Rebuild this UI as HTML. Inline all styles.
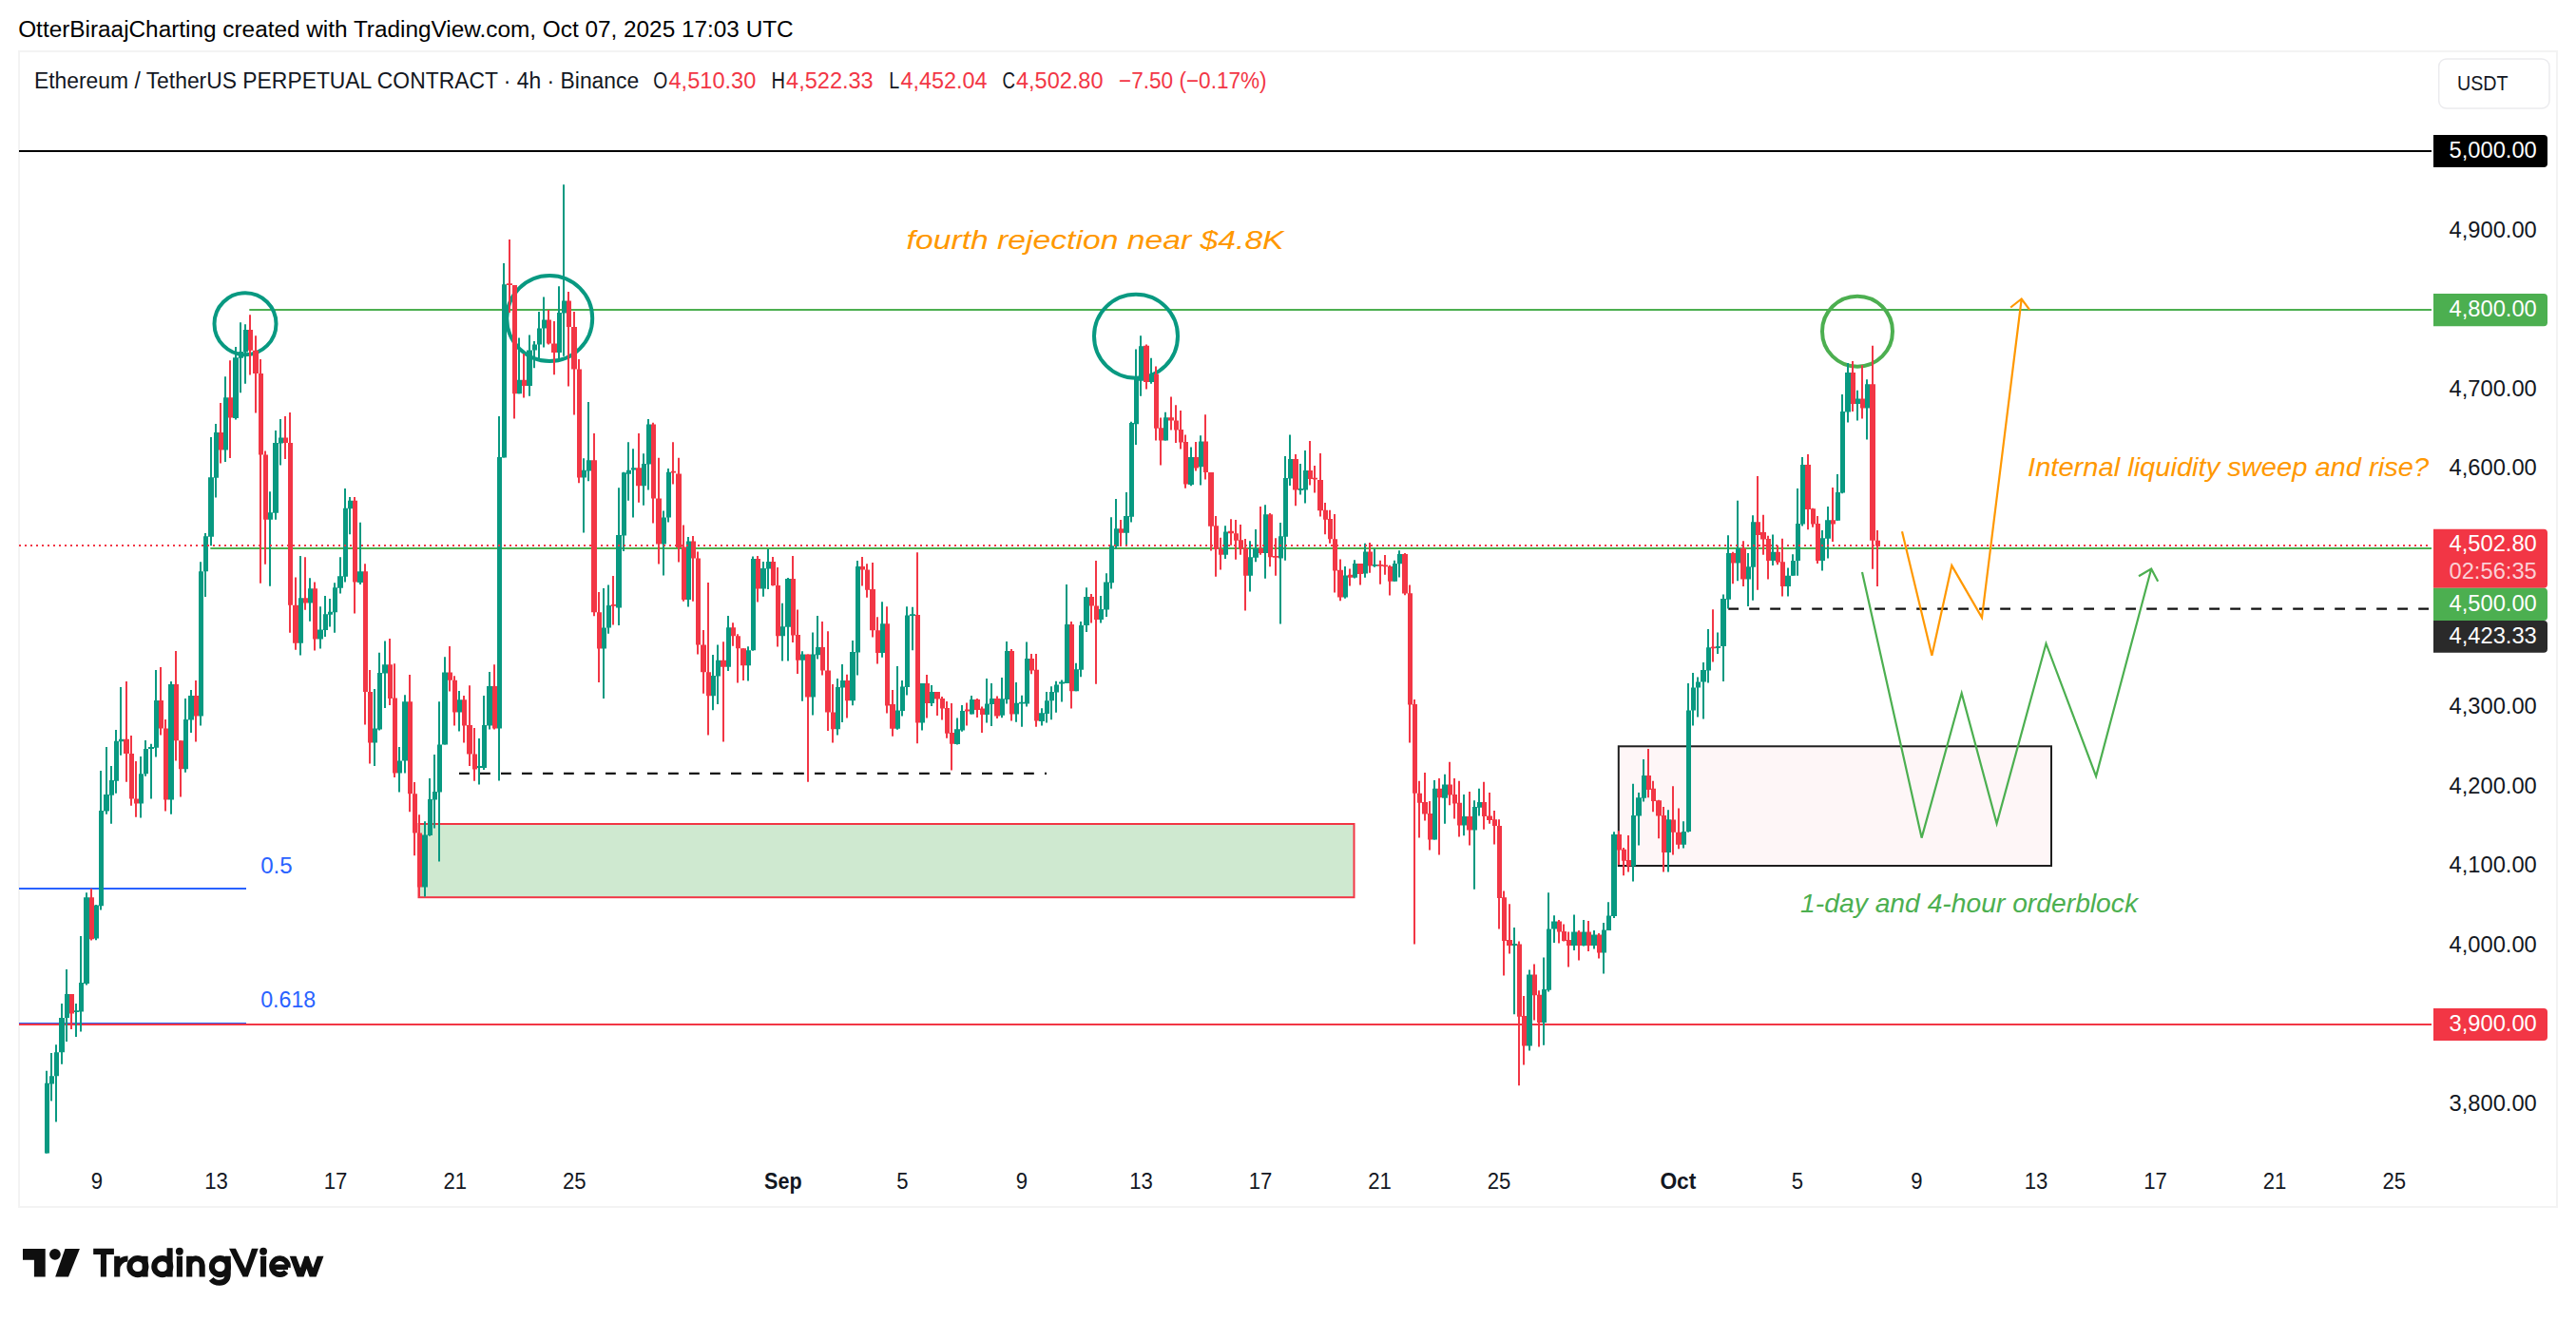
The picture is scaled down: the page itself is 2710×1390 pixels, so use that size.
<!DOCTYPE html>
<html><head><meta charset="utf-8"><title>ETHUSDT chart</title>
<style>html,body{margin:0;padding:0;background:#fff}body{width:2710px;height:1390px;overflow:hidden;font-family:"Liberation Sans",sans-serif}</style>
</head><body>
<svg width="2710" height="1390" viewBox="0 0 2710 1390" style="display:block">
<rect x="0" y="0" width="2710" height="1390" fill="#ffffff"/>
<text x="19.2" y="39.4" font-size="23.5" fill="#000000" textLength="815.5" lengthAdjust="spacingAndGlyphs">OtterBiraajCharting created with TradingView.com, Oct 07, 2025 17:03 UTC</text>
<rect x="20" y="54" width="2670" height="1216" fill="#ffffff" stroke="#f3f3f3" stroke-width="2"/>
<text x="35.9" y="93.1" font-size="23.5" fill="#131722" textLength="636.3" lengthAdjust="spacingAndGlyphs">Ethereum / TetherUS PERPETUAL CONTRACT · 4h · Binance</text>
<text x="687.2" y="93.1" font-size="23.5" fill="#131722" textLength="15" lengthAdjust="spacingAndGlyphs">O</text>
<text x="703.5" y="93.1" font-size="23.5" fill="#F23645" textLength="91.8" lengthAdjust="spacingAndGlyphs">4,510.30</text>
<text x="811.6" y="93.1" font-size="23.5" fill="#131722" textLength="14.5" lengthAdjust="spacingAndGlyphs">H</text>
<text x="827.1" y="93.1" font-size="23.5" fill="#F23645" textLength="91.6" lengthAdjust="spacingAndGlyphs">4,522.33</text>
<text x="935.3" y="93.1" font-size="23.5" fill="#131722" textLength="11" lengthAdjust="spacingAndGlyphs">L</text>
<text x="947.5" y="93.1" font-size="23.5" fill="#F23645" textLength="91" lengthAdjust="spacingAndGlyphs">4,452.04</text>
<text x="1054.6" y="93.1" font-size="23.5" fill="#131722" textLength="13.5" lengthAdjust="spacingAndGlyphs">C</text>
<text x="1069.0" y="93.1" font-size="23.5" fill="#F23645" textLength="91.5" lengthAdjust="spacingAndGlyphs">4,502.80</text>
<text x="1177.1" y="93.1" font-size="23.5" fill="#F23645" textLength="155.5" lengthAdjust="spacingAndGlyphs">−7.50 (−0.17%)</text>
<rect x="2565.7" y="61.9" width="116.3" height="52.2" rx="8" ry="8" fill="#ffffff" stroke="#ebebee" stroke-width="1.5"/>
<text x="2585" y="95.3" font-size="21.5" fill="#131722" textLength="53.6" lengthAdjust="spacingAndGlyphs">USDT</text>
<line x1="20" y1="159" x2="2558" y2="159" stroke="#000000" stroke-width="2"/>
<line x1="262.3" y1="326" x2="2558" y2="326" stroke="#4CAF50" stroke-width="2"/>
<line x1="221.3" y1="577" x2="2558" y2="577" stroke="#4CAF50" stroke-width="2"/>
<line x1="20" y1="935" x2="259" y2="935" stroke="#2962FF" stroke-width="2"/>
<line x1="20" y1="1077" x2="259" y2="1077" stroke="#2962FF" stroke-width="2"/>
<line x1="20" y1="1078" x2="2558" y2="1078" stroke="#F23645" stroke-width="2"/>
<rect x="440.5" y="867" width="984" height="77.2" fill="rgba(76,175,80,0.27)" stroke="#F23645" stroke-width="2"/>
<rect x="1702.8" y="785.3" width="455.2" height="125.7" fill="rgba(242,54,69,0.045)" stroke="#1e1e1e" stroke-width="2"/>
<line x1="483" y1="813.9" x2="1101" y2="813.9" stroke="#111111" stroke-width="2.2" stroke-dasharray="10.8 11.2"/>
<line x1="1818.2" y1="640.7" x2="2556" y2="640.7" stroke="#111111" stroke-width="2.2" stroke-dasharray="10.8 11.2"/>
<circle cx="258" cy="340.7" r="32.5" fill="none" stroke="#089981" stroke-width="4"/>
<circle cx="578.2" cy="335" r="45" fill="none" stroke="#089981" stroke-width="4"/>
<circle cx="1195" cy="353.7" r="44" fill="none" stroke="#089981" stroke-width="4"/>
<circle cx="1954" cy="348.7" r="37" fill="none" stroke="#4CAF50" stroke-width="4"/>
<path d="M2001 559.3 L2032.4 689.8 L2053.3 595.1 L2085 649.8 L2126.7 314.5 M2115.2 323.5 L2126.7 314.5 L2135.1 325.8" fill="none" stroke="#FF9800" stroke-width="2.2" stroke-linejoin="miter" stroke-linecap="butt"/>
<path d="M1959 602 L2021.6 881.6 L2063.7 729.4 L2100.6 866.6 L2152.5 677.2 L2205.1 816.8 L2263.2 598.5 M2250 606.2 L2263.2 598.5 L2270.2 611.7" fill="none" stroke="#4CAF50" stroke-width="2.2" stroke-linejoin="miter" stroke-linecap="butt"/>
<path d="M48 1126.8h2V1213.5h-2zM53 1108.1h2V1158.5h-2zM58 1099.3h2V1180.5h-2zM64 1056.1h2V1119.8h-2zM69 1019.9h2V1096.1h-2zM79 1056.1h2V1091.1h-2zM84 984.9h2V1085.6h-2zM90 939.2h2V1036.6h-2zM100 952.0h2V989.2h-2zM105 811.1h2V957.4h-2zM111 786.1h2V856.8h-2zM116 806.1h2V866.8h-2zM121 768.1h2V834.8h-2zM126 722.9h2V794.8h-2zM147 796.1h2V860.5h-2zM152 779.1h2V816.8h-2zM158 782.8h2V840.5h-2zM163 705.1h2V796.6h-2zM179 716.9h2V856.8h-2zM194 734.9h2V812.8h-2zM200 726.1h2V771.1h-2zM210 591.2h2V763.6h-2zM215 561.0h2V628.0h-2zM221 459.9h2V574.3h-2zM226 446.1h2V523.6h-2zM236 396.2h2V486.1h-2zM247 364.9h2V441.6h-2zM252 339.2h2V413.2h-2zM257 341.2h2V403.7h-2zM283 517.3h2V616.7h-2zM289 453.1h2V546.8h-2zM294 441.1h2V489.4h-2zM315 585.0h2V689.4h-2zM325 608.2h2V653.7h-2zM336 638.2h2V682.4h-2zM341 627.0h2V669.9h-2zM346 630.0h2V659.4h-2zM351 613.2h2V665.7h-2zM357 586.2h2V624.5h-2zM362 514.1h2V612.5h-2zM367 523.1h2V562.3h-2zM378 549.8h2V615.0h-2zM393 724.9h2V806.1h-2zM398 686.7h2V768.6h-2zM404 674.4h2V744.9h-2zM419 786.1h2V833.6h-2zM425 731.2h2V813.6h-2zM446 864.3h2V943.5h-2zM451 819.1h2V879.8h-2zM456 794.1h2V871.6h-2zM461 738.2h2V906.5h-2zM467 691.2h2V783.6h-2zM482 726.9h2V769.4h-2zM503 776.9h2V825.6h-2zM508 731.9h2V809.9h-2zM514 706.9h2V767.4h-2zM524 438.0h2V821.6h-2zM529 276.9h2V481.5h-2zM545 355.4h2V414.3h-2zM556 352.4h2V416.8h-2zM561 359.1h2V387.3h-2zM566 328.1h2V377.3h-2zM571 312.4h2V365.6h-2zM587 301.2h2V377.3h-2zM592 194.2h2V374.8h-2zM613 482.3h2V560.6h-2zM618 423.1h2V506.2h-2zM634 619.1h2V734.9h-2zM639 615.4h2V666.7h-2zM650 513.2h2V658.0h-2zM655 496.8h2V579.9h-2zM660 465.3h2V526.7h-2zM665 472.3h2V544.4h-2zM676 477.3h2V531.7h-2zM681 441.0h2V515.4h-2zM697 537.4h2V605.6h-2zM702 493.0h2V549.4h-2zM723 564.9h2V638.6h-2zM749 689.0h2V747.3h-2zM754 678.6h2V741.0h-2zM765 648.1h2V706.0h-2zM786 680.3h2V716.5h-2zM791 585.6h2V684.8h-2zM802 591.1h2V627.8h-2zM807 577.4h2V619.9h-2zM822 634.8h2V695.5h-2zM828 608.1h2V695.5h-2zM843 685.3h2V737.8h-2zM854 665.6h2V752.4h-2zM859 648.1h2V693.5h-2zM880 714.0h2V773.6h-2zM885 699.0h2V759.9h-2zM896 674.1h2V742.3h-2zM901 589.9h2V710.5h-2zM927 633.2h2V691.7h-2zM943 701.1h2V767.8h-2zM948 716.1h2V753.6h-2zM953 638.2h2V731.6h-2zM959 638.7h2V684.2h-2zM969 719.1h2V768.6h-2zM979 721.1h2V743.1h-2zM1006 755.4h2V783.6h-2zM1011 741.9h2V769.8h-2zM1021 731.9h2V751.6h-2zM1037 714.1h2V760.6h-2zM1042 719.1h2V764.1h-2zM1053 713.1h2V755.3h-2zM1058 674.9h2V740.6h-2zM1068 718.1h2V759.8h-2zM1074 731.8h2V764.8h-2zM1079 675.6h2V743.6h-2zM1095 745.3h2V763.5h-2zM1100 728.1h2V760.5h-2zM1105 722.3h2V757.3h-2zM1110 716.8h2V749.8h-2zM1116 715.6h2V738.6h-2zM1121 614.9h2V719.1h-2zM1131 697.8h2V727.3h-2zM1136 654.1h2V712.3h-2zM1142 618.2h2V664.9h-2zM1157 626.9h2V655.6h-2zM1163 603.2h2V649.1h-2zM1168 544.2h2V619.4h-2zM1173 525.0h2V577.4h-2zM1184 518.0h2V574.2h-2zM1189 443.7h2V549.5h-2zM1194 367.5h2V468.1h-2zM1199 353.2h2V416.7h-2zM1210 376.7h2V403.7h-2zM1225 433.7h2V463.6h-2zM1252 470.6h2V511.2h-2zM1262 458.2h2V510.5h-2zM1288 553.2h2V587.9h-2zM1314 569.2h2V622.4h-2zM1320 556.9h2V591.2h-2zM1330 531.2h2V608.7h-2zM1346 550.0h2V656.6h-2zM1351 479.9h2V589.8h-2zM1356 457.4h2V511.1h-2zM1367 487.9h2V520.4h-2zM1372 474.1h2V529.4h-2zM1414 596.1h2V629.8h-2zM1424 589.3h2V608.5h-2zM1435 571.8h2V607.8h-2zM1445 577.3h2V596.8h-2zM1466 589.8h2V611.8h-2zM1471 579.2h2V607.5h-2zM1508 821.1h2V883.5h-2zM1519 814.8h2V866.8h-2zM1539 836.0h2V879.3h-2zM1550 842.3h2V935.7h-2zM1555 829.8h2V858.5h-2zM1592 976.1h2V1067.3h-2zM1608 1020.4h2V1105.5h-2zM1623 1007.4h2V1099.8h-2zM1628 939.2h2V1043.6h-2zM1634 963.2h2V991.9h-2zM1655 962.4h2V999.9h-2zM1665 968.1h2V995.6h-2zM1676 979.1h2V998.6h-2zM1686 971.1h2V1024.4h-2zM1691 949.2h2V979.1h-2zM1697 875.3h2V966.1h-2zM1717 824.8h2V927.4h-2zM1723 834.0h2V889.5h-2zM1728 799.1h2V843.5h-2zM1754 852.3h2V917.4h-2zM1770 864.2h2V892.5h-2zM1775 719.1h2V875.7h-2zM1780 708.1h2V763.6h-2zM1785 712.4h2V754.4h-2zM1791 696.9h2V756.6h-2zM1796 661.9h2V718.6h-2zM1806 665.4h2V687.9h-2zM1812 625.5h2V716.9h-2zM1817 563.2h2V640.4h-2zM1827 526.8h2V611.2h-2zM1838 582.0h2V637.9h-2zM1843 542.3h2V631.7h-2zM1864 562.5h2V595.0h-2zM1880 597.5h2V627.4h-2zM1885 583.2h2V605.7h-2zM1890 514.1h2V605.7h-2zM1895 481.1h2V553.6h-2zM1916 558.0h2V600.5h-2zM1922 533.1h2V587.5h-2zM1932 499.1h2V547.8h-2zM1937 414.9h2V519.3h-2zM1943 381.9h2V444.4h-2zM1953 410.7h2V442.4h-2zM1963 399.2h2V462.4h-2z" fill="#089981"/>
<path d="M74 1046.1h2V1083.1h-2zM95 935.0h2V989.4h-2zM132 716.9h2V822.8h-2zM137 774.1h2V847.8h-2zM142 801.1h2V859.8h-2zM168 701.9h2V773.6h-2zM173 756.9h2V853.5h-2zM184 684.9h2V800.6h-2zM189 779.3h2V838.5h-2zM205 716.1h2V780.6h-2zM231 424.1h2V487.4h-2zM241 379.2h2V481.9h-2zM262 331.2h2V394.4h-2zM268 353.2h2V434.4h-2zM273 377.9h2V613.7h-2zM278 474.4h2V593.7h-2zM299 438.1h2V483.1h-2zM304 434.1h2V665.7h-2zM310 607.5h2V683.7h-2zM320 586.2h2V641.7h-2zM330 612.5h2V684.4h-2zM372 523.1h2V645.4h-2zM383 593.2h2V762.4h-2zM388 705.1h2V803.6h-2zM409 671.9h2V741.9h-2zM414 698.2h2V817.9h-2zM430 709.9h2V854.3h-2zM435 823.1h2V900.3h-2zM440 857.3h2V943.5h-2zM472 680.0h2V727.4h-2zM477 711.2h2V763.6h-2zM487 731.9h2V781.6h-2zM493 721.2h2V806.1h-2zM498 766.1h2V821.8h-2zM519 699.2h2V767.4h-2zM535 251.9h2V329.1h-2zM540 299.9h2V440.5h-2zM550 372.3h2V418.6h-2zM576 326.1h2V362.4h-2zM582 338.1h2V394.3h-2zM597 306.9h2V406.6h-2zM603 327.9h2V436.6h-2zM608 378.1h2V508.2h-2zM624 456.0h2V648.2h-2zM629 623.1h2V717.9h-2zM644 606.1h2V657.5h-2zM671 456.0h2V528.7h-2zM686 444.8h2V550.4h-2zM692 481.8h2V593.6h-2zM707 465.3h2V509.4h-2zM713 481.8h2V591.6h-2zM718 552.4h2V632.8h-2zM728 564.1h2V632.8h-2zM733 580.6h2V688.5h-2zM739 663.1h2V729.8h-2zM744 613.1h2V773.6h-2zM760 675.3h2V780.6h-2zM770 655.3h2V679.8h-2zM775 667.3h2V718.5h-2zM781 682.3h2V716.0h-2zM796 584.9h2V633.6h-2zM812 586.1h2V616.6h-2zM817 596.9h2V680.6h-2zM833 584.9h2V676.1h-2zM838 641.6h2V709.0h-2zM849 688.5h2V822.8h-2zM864 654.1h2V710.5h-2zM870 664.3h2V769.1h-2zM875 719.9h2V781.6h-2zM890 709.8h2V755.4h-2zM906 586.1h2V616.6h-2zM911 593.2h2V628.7h-2zM917 592.0h2V670.4h-2zM922 649.2h2V698.6h-2zM932 638.2h2V750.6h-2zM938 726.1h2V774.8h-2zM964 581.2h2V782.3h-2zM974 709.9h2V755.6h-2zM985 728.1h2V752.9h-2zM990 733.1h2V757.4h-2zM995 738.1h2V776.8h-2zM1000 739.9h2V810.6h-2zM1016 739.4h2V763.6h-2zM1027 734.9h2V754.9h-2zM1032 743.6h2V771.1h-2zM1048 732.4h2V756.1h-2zM1063 683.1h2V758.5h-2zM1084 688.1h2V709.3h-2zM1089 688.1h2V764.8h-2zM1126 654.1h2V745.6h-2zM1147 624.9h2V655.6h-2zM1152 589.9h2V719.8h-2zM1178 547.0h2V574.9h-2zM1205 362.5h2V409.4h-2zM1215 385.5h2V463.6h-2zM1220 439.4h2V489.4h-2zM1231 417.4h2V452.4h-2zM1236 426.2h2V466.1h-2zM1241 431.9h2V472.4h-2zM1246 457.4h2V513.7h-2zM1257 464.9h2V495.5h-2zM1267 436.2h2V504.5h-2zM1273 497.0h2V579.4h-2zM1278 543.0h2V606.7h-2zM1283 565.7h2V599.4h-2zM1294 546.2h2V573.7h-2zM1299 547.0h2V588.7h-2zM1304 552.0h2V583.7h-2zM1309 566.9h2V642.4h-2zM1325 533.0h2V583.7h-2zM1335 540.0h2V596.2h-2zM1341 566.2h2V605.7h-2zM1362 478.1h2V532.3h-2zM1377 464.1h2V510.6h-2zM1382 489.9h2V518.6h-2zM1388 476.9h2V543.6h-2zM1393 529.1h2V562.3h-2zM1398 536.8h2V571.8h-2zM1403 541.1h2V623.5h-2zM1409 588.6h2V632.3h-2zM1419 598.5h2V616.5h-2zM1430 593.1h2V615.5h-2zM1440 571.1h2V602.8h-2zM1451 589.8h2V614.8h-2zM1456 584.1h2V604.8h-2zM1461 594.8h2V626.5h-2zM1477 582.0h2V626.2h-2zM1482 615.5h2V781.6h-2zM1487 736.1h2V993.6h-2zM1492 821.8h2V881.5h-2zM1498 813.1h2V863.5h-2zM1503 843.0h2V894.5h-2zM1513 819.1h2V899.4h-2zM1524 801.8h2V847.3h-2zM1529 819.1h2V861.5h-2zM1534 821.8h2V880.5h-2zM1545 833.0h2V889.5h-2zM1560 822.8h2V872.8h-2zM1566 834.0h2V866.8h-2zM1571 853.0h2V888.5h-2zM1576 862.3h2V977.4h-2zM1581 937.4h2V1026.6h-2zM1587 951.2h2V1003.6h-2zM1597 990.6h2V1142.3h-2zM1602 1048.1h2V1120.5h-2zM1613 1014.4h2V1073.6h-2zM1618 1042.3h2V1101.5h-2zM1639 967.9h2V992.4h-2zM1644 972.4h2V990.6h-2zM1649 980.6h2V1017.4h-2zM1660 979.1h2V1010.6h-2zM1670 969.1h2V1001.1h-2zM1681 981.9h2V1008.6h-2zM1702 874.3h2V909.9h-2zM1707 892.0h2V921.2h-2zM1712 879.0h2V917.4h-2zM1733 788.1h2V839.3h-2zM1738 821.8h2V854.3h-2zM1744 841.8h2V882.3h-2zM1749 849.0h2V917.4h-2zM1759 827.3h2V899.4h-2zM1765 850.5h2V893.2h-2zM1801 641.2h2V696.6h-2zM1822 580.7h2V614.2h-2zM1833 569.2h2V617.0h-2zM1848 501.1h2V620.7h-2zM1854 541.8h2V583.7h-2zM1859 563.7h2V609.5h-2zM1869 573.7h2V594.2h-2zM1874 566.7h2V627.4h-2zM1901 478.1h2V557.3h-2zM1906 534.8h2V554.8h-2zM1911 543.1h2V593.0h-2zM1927 513.1h2V570.0h-2zM1948 379.9h2V433.1h-2zM1958 384.2h2V440.6h-2zM1969 363.7h2V598.7h-2zM1974 558.0h2V617.0h-2z" fill="#F23645"/>
<path d="M47 1139.8h5V1213.5h-5zM52 1132.3h5V1140.6h-5zM57 1107.3h5V1132.3h-5zM62 1071.1h6V1107.3h-6zM68 1046.1h5V1071.1h-5zM78 1063.3h5V1065.1h-5zM83 1034.1h5V1064.4h-5zM88 944.2h6V1034.9h-6zM99 952.5h5V987.4h-5zM104 853.0h5V953.2h-5zM109 836.1h6V853.5h-6zM115 821.1h5V836.8h-5zM120 779.8h5V821.8h-5zM125 777.8h5V780.3h-5zM146 814.3h5V845.5h-5zM151 788.1h5V814.3h-5zM156 786.1h6V788.1h-6zM162 736.9h5V786.8h-5zM177 719.9h6V841.5h-6zM193 756.9h5V809.3h-5zM198 731.9h6V757.4h-6zM209 601.2h5V753.6h-5zM214 564.3h5V601.2h-5zM219 502.3h6V564.8h-6zM225 454.9h5V502.8h-5zM235 418.2h5V473.6h-5zM245 376.2h6V439.9h-6zM251 369.9h5V376.7h-5zM256 347.0h5V370.4h-5zM282 539.3h5V546.8h-5zM287 466.1h6V539.8h-6zM293 460.6h5V466.6h-5zM314 629.2h5V676.7h-5zM324 619.2h5V634.5h-5zM334 662.4h6V672.4h-6zM340 646.2h5V662.9h-5zM345 643.7h5V646.7h-5zM350 618.2h5V644.2h-5zM355 606.2h6V618.7h-6zM361 534.8h5V606.7h-5zM366 526.8h5V535.3h-5zM376 601.2h6V613.0h-6zM392 766.6h5V781.6h-5zM397 708.1h5V767.4h-5zM402 699.2h6V708.6h-6zM418 800.6h5V813.6h-5zM423 738.2h6V800.6h-6zM444 878.6h6V933.5h-6zM450 841.1h5V879.1h-5zM455 833.1h5V841.6h-5zM460 783.6h5V833.6h-5zM465 707.4h6V783.6h-6zM481 736.2h5V749.4h-5zM502 806.1h5V807.9h-5zM507 763.1h5V807.9h-5zM512 721.9h6V763.6h-6zM523 481.0h5V766.6h-5zM528 299.2h5V481.5h-5zM544 399.8h5V414.3h-5zM554 368.6h6V406.1h-6zM560 362.4h5V368.6h-5zM565 345.4h5V362.4h-5zM570 336.6h5V345.6h-5zM586 329.1h5V371.1h-5zM591 316.6h5V329.4h-5zM612 494.8h5V502.4h-5zM617 484.3h5V495.4h-5zM633 660.5h5V682.5h-5zM638 637.0h5V660.5h-5zM648 563.1h6V639.5h-6zM654 497.3h5V563.6h-5zM659 494.8h5V498.7h-5zM664 492.3h5V494.4h-5zM675 488.0h5V511.2h-5zM680 446.5h5V488.5h-5zM696 544.4h5V572.4h-5zM701 496.8h5V544.4h-5zM722 569.4h5V631.1h-5zM748 711.0h5V732.3h-5zM753 694.8h5V711.5h-5zM764 660.3h5V701.8h-5zM785 684.3h5V700.3h-5zM790 587.9h5V684.3h-5zM800 598.1h6V619.4h-6zM806 591.1h5V598.6h-5zM821 659.3h5V669.3h-5zM826 609.1h6V659.8h-6zM842 688.5h5V694.8h-5zM853 688.5h5V733.5h-5zM858 681.1h5V689.3h-5zM879 723.0h5V767.3h-5zM884 716.0h5V723.5h-5zM894 686.1h6V737.3h-6zM900 596.1h5V686.6h-5zM926 656.2h5V686.9h-5zM942 747.4h5V766.8h-5zM947 722.4h5V747.9h-5zM952 647.4h5V722.9h-5zM957 646.2h6V647.9h-6zM968 719.1h5V760.6h-5zM978 728.1h5V739.9h-5zM1004 767.3h6V783.1h-6zM1010 748.1h5V768.6h-5zM1020 736.1h5V751.6h-5zM1036 740.4h5V751.9h-5zM1041 734.9h5V741.1h-5zM1052 735.3h5V752.8h-5zM1057 684.9h5V736.1h-5zM1067 739.8h5V751.6h-5zM1072 738.8h6V740.6h-6zM1078 693.1h5V740.6h-5zM1093 750.3h6V759.0h-6zM1099 737.3h5V751.1h-5zM1104 728.1h5V737.3h-5zM1109 720.6h5V728.6h-5zM1114 717.6h6V719.4h-6zM1120 656.9h5V719.1h-5zM1130 704.3h5V727.3h-5zM1135 657.9h5V704.8h-5zM1140 628.1h6V658.1h-6zM1156 641.1h5V651.9h-5zM1161 612.4h6V641.6h-6zM1167 574.2h5V613.2h-5zM1172 556.2h5V574.9h-5zM1182 543.0h6V560.7h-6zM1188 444.9h5V543.7h-5zM1193 397.4h5V446.2h-5zM1198 364.2h5V400.7h-5zM1209 393.7h5V401.9h-5zM1224 439.2h5V463.6h-5zM1250 481.1h6V510.0h-6zM1261 464.4h5V491.2h-5zM1287 559.4h5V583.7h-5zM1313 586.2h5V605.7h-5zM1318 576.9h6V586.7h-6zM1329 541.2h5V581.9h-5zM1345 564.2h5V587.4h-5zM1350 503.1h5V564.8h-5zM1355 483.1h5V503.6h-5zM1366 514.1h5V515.9h-5zM1371 494.9h5V515.4h-5zM1413 605.5h5V628.5h-5zM1423 593.1h5V607.8h-5zM1434 580.6h5V603.5h-5zM1444 594.0h5V595.8h-5zM1465 593.1h5V611.8h-5zM1470 583.0h5V593.2h-5zM1507 829.8h5V883.5h-5zM1517 825.6h6V839.8h-6zM1538 859.0h5V868.5h-5zM1549 849.0h5V873.5h-5zM1554 844.0h5V849.8h-5zM1591 993.1h5V994.9h-5zM1606 1025.4h6V1100.5h-6zM1622 1041.1h5V1076.1h-5zM1627 977.4h5V1041.8h-5zM1632 969.4h6V977.4h-6zM1653 980.4h6V994.9h-6zM1664 980.4h5V994.9h-5zM1674 983.6h6V994.9h-6zM1685 978.6h5V1002.4h-5zM1690 963.6h5V979.1h-5zM1695 878.0h6V964.1h-6zM1716 858.0h5V911.2h-5zM1721 839.3h6V858.5h-6zM1727 816.1h5V839.8h-5zM1753 862.3h5V896.9h-5zM1769 875.0h5V888.7h-5zM1774 747.4h5V875.0h-5zM1779 723.6h5V747.4h-5zM1784 717.4h5V723.6h-5zM1789 704.9h6V717.4h-6zM1795 681.2h5V705.4h-5zM1805 679.9h5V681.9h-5zM1810 629.9h6V679.9h-6zM1816 582.0h5V630.7h-5zM1826 577.0h5V592.5h-5zM1837 596.2h5V609.5h-5zM1842 549.3h5V596.7h-5zM1863 580.7h5V590.0h-5zM1878 605.7h6V617.0h-6zM1884 590.0h5V605.7h-5zM1889 551.1h5V590.0h-5zM1894 489.1h5V551.6h-5zM1915 566.2h5V590.0h-5zM1920 547.3h6V566.7h-6zM1931 518.1h5V547.8h-5zM1936 433.1h5V518.6h-5zM1941 391.9h6V433.6h-6zM1952 419.4h5V424.9h-5zM1962 404.2h5V429.4h-5z" fill="#089981"/>
<path d="M73 1046.1h5V1066.6h-5zM94 944.2h5V988.2h-5zM130 777.8h6V793.1h-6zM136 793.1h5V840.5h-5zM141 840.5h5V845.5h-5zM167 736.9h5V766.6h-5zM172 766.6h5V841.5h-5zM183 719.9h5V779.3h-5zM188 779.3h5V809.3h-5zM204 731.9h5V753.6h-5zM230 454.9h5V473.6h-5zM240 418.2h5V439.4h-5zM261 347.0h5V368.7h-5zM266 368.7h6V392.9h-6zM272 392.9h5V478.6h-5zM277 478.6h5V546.8h-5zM298 460.6h5V466.1h-5zM303 466.1h5V636.7h-5zM308 636.7h6V676.7h-6zM319 629.2h5V634.5h-5zM329 619.2h5V672.4h-5zM371 526.8h5V612.5h-5zM382 601.2h5V728.1h-5zM387 728.1h5V781.6h-5zM408 699.2h5V734.9h-5zM413 734.4h5V813.6h-5zM429 738.2h5V835.3h-5zM434 835.3h5V876.6h-5zM439 876.6h5V933.5h-5zM471 707.4h5V715.7h-5zM476 715.7h5V749.4h-5zM486 736.2h5V763.6h-5zM491 763.1h6V793.6h-6zM497 793.6h5V809.4h-5zM518 721.9h5V766.6h-5zM533 298.2h6V299.9h-6zM539 299.9h5V414.3h-5zM549 399.8h5V406.1h-5zM575 336.6h5V361.6h-5zM580 361.6h6V371.1h-6zM596 316.6h5V344.1h-5zM601 344.1h6V388.6h-6zM607 388.6h5V502.4h-5zM622 484.3h6V644.2h-6zM628 644.2h5V682.5h-5zM643 636.0h5V637.8h-5zM669 492.3h6V511.2h-6zM685 446.5h5V524.4h-5zM690 524.4h6V572.4h-6zM706 495.8h5V497.6h-5zM711 498.5h6V576.1h-6zM717 575.4h5V631.1h-5zM727 569.4h5V587.4h-5zM732 587.4h5V678.6h-5zM737 678.6h6V707.3h-6zM743 707.3h5V732.3h-5zM758 694.8h6V701.8h-6zM769 660.3h5V669.3h-5zM774 669.3h5V682.3h-5zM779 682.3h6V700.3h-6zM795 587.9h5V619.4h-5zM811 591.1h5V616.1h-5zM816 616.1h5V669.3h-5zM832 609.1h5V668.6h-5zM837 668.1h5V694.8h-5zM847 688.5h6V733.5h-6zM863 681.1h5V705.5h-5zM868 705.5h6V749.4h-6zM874 749.4h5V767.3h-5zM889 716.0h5V737.3h-5zM905 596.1h5V599.4h-5zM910 599.5h5V620.7h-5zM915 620.0h6V663.2h-6zM921 663.2h5V686.9h-5zM931 656.2h5V742.4h-5zM936 741.1h6V766.8h-6zM963 646.9h5V760.6h-5zM973 719.1h5V739.9h-5zM983 728.1h6V735.6h-6zM989 734.9h5V745.6h-5zM994 744.9h5V771.8h-5zM999 771.1h5V782.8h-5zM1015 746.6h5V748.4h-5zM1025 736.1h6V746.9h-6zM1031 745.4h5V751.9h-5zM1046 734.9h6V753.6h-6zM1062 684.9h5V751.6h-5zM1083 693.1h5V705.6h-5zM1088 704.8h5V758.5h-5zM1125 656.9h5V727.3h-5zM1146 628.1h5V637.4h-5zM1151 637.4h5V651.9h-5zM1177 556.2h5V560.7h-5zM1203 363.7h6V401.9h-6zM1214 393.7h5V450.7h-5zM1219 450.2h5V463.6h-5zM1229 439.2h6V442.4h-6zM1235 442.4h5V452.4h-5zM1240 451.9h5V465.6h-5zM1245 464.9h5V509.5h-5zM1256 481.1h5V492.5h-5zM1266 464.4h5V497.0h-5zM1271 497.0h6V553.7h-6zM1277 553.2h5V577.9h-5zM1282 577.9h5V583.7h-5zM1292 558.7h6V561.2h-6zM1298 561.2h5V568.7h-5zM1303 568.2h5V577.4h-5zM1308 576.9h5V605.7h-5zM1324 576.9h5V581.9h-5zM1334 541.2h5V586.2h-5zM1339 584.9h6V586.7h-6zM1360 483.1h6V515.4h-6zM1376 494.9h5V504.1h-5zM1381 502.8h5V504.6h-5zM1386 504.9h6V537.3h-6zM1392 536.8h5V546.8h-5zM1397 546.1h5V567.3h-5zM1402 567.3h5V600.5h-5zM1407 599.8h6V628.5h-6zM1418 604.8h5V607.8h-5zM1428 593.1h6V604.0h-6zM1439 580.6h5V595.6h-5zM1449 593.9h6V595.7h-6zM1455 594.5h5V596.3h-5zM1460 596.1h5V611.8h-5zM1475 583.0h6V624.5h-6zM1481 624.2h5V741.6h-5zM1486 741.1h5V834.8h-5zM1491 834.8h5V844.8h-5zM1496 844.0h6V856.5h-6zM1502 856.0h5V883.5h-5zM1512 829.8h5V839.3h-5zM1523 825.6h5V836.5h-5zM1528 836.0h5V845.5h-5zM1533 844.8h5V868.5h-5zM1543 859.0h6V873.5h-6zM1559 844.0h5V859.0h-5zM1564 858.5h6V863.0h-6zM1570 862.3h5V869.0h-5zM1575 869.0h5V944.9h-5zM1580 944.2h5V989.9h-5zM1585 989.1h6V994.9h-6zM1596 993.6h5V1069.8h-5zM1601 1069.1h5V1100.5h-5zM1612 1025.4h5V1047.3h-5zM1617 1046.8h5V1076.1h-5zM1638 969.4h5V980.6h-5zM1643 979.9h5V989.9h-5zM1648 989.1h5V994.9h-5zM1659 980.4h5V994.9h-5zM1669 980.4h5V994.9h-5zM1680 983.6h5V1002.4h-5zM1701 878.0h5V894.5h-5zM1706 893.7h5V905.7h-5zM1711 904.9h5V911.2h-5zM1732 816.1h5V831.0h-5zM1737 829.8h5V843.0h-5zM1742 842.3h6V858.5h-6zM1748 858.0h5V896.9h-5zM1758 862.5h5V875.7h-5zM1763 875.7h6V888.7h-6zM1800 680.4h5V682.2h-5zM1821 582.0h5V592.5h-5zM1831 577.0h6V609.5h-6zM1847 549.3h5V563.0h-5zM1852 560.0h6V567.5h-6zM1858 567.0h5V590.0h-5zM1868 580.7h5V591.7h-5zM1873 591.2h5V617.0h-5zM1899 489.1h6V536.1h-6zM1905 535.3h5V551.6h-5zM1910 551.1h5V590.0h-5zM1926 547.3h5V551.6h-5zM1947 391.9h5V424.9h-5zM1957 419.4h5V429.4h-5zM1967 404.2h6V568.7h-6zM1973 568.7h5V574.5h-5z" fill="#F23645"/>
<line x1="20" y1="574" x2="2558" y2="574" stroke="#F23645" stroke-width="2" stroke-dasharray="2 4"/>
<text x="953.6" y="262.4" font-size="27.5" fill="#FF9800" textLength="397" lengthAdjust="spacingAndGlyphs" font-style="italic">fourth rejection near $4.8K</text>
<text x="2133.1" y="501" font-size="27.5" fill="#FF9800" textLength="422" lengthAdjust="spacingAndGlyphs" font-style="italic">Internal liquidity sweep and rise?</text>
<text x="1894.1" y="960.3" font-size="27.5" fill="#4CAF50" textLength="355" lengthAdjust="spacingAndGlyphs" font-style="italic">1-day and 4-hour orderblock</text>
<text x="274.2" y="919.3" font-size="23.5" fill="#2962FF" textLength="33.5" lengthAdjust="spacingAndGlyphs">0.5</text>
<text x="274.2" y="1060.3" font-size="23.5" fill="#2962FF" textLength="58.1" lengthAdjust="spacingAndGlyphs">0.618</text>
<text x="2576.5" y="249.7" font-size="23.5" fill="#131722" textLength="92.3" lengthAdjust="spacingAndGlyphs">4,900.00</text>
<text x="2576.5" y="416.8" font-size="23.5" fill="#131722" textLength="92.3" lengthAdjust="spacingAndGlyphs">4,700.00</text>
<text x="2576.5" y="500.4" font-size="23.5" fill="#131722" textLength="92.3" lengthAdjust="spacingAndGlyphs">4,600.00</text>
<text x="2576.5" y="751.0" font-size="23.5" fill="#131722" textLength="92.3" lengthAdjust="spacingAndGlyphs">4,300.00</text>
<text x="2576.5" y="834.6" font-size="23.5" fill="#131722" textLength="92.3" lengthAdjust="spacingAndGlyphs">4,200.00</text>
<text x="2576.5" y="918.1" font-size="23.5" fill="#131722" textLength="92.3" lengthAdjust="spacingAndGlyphs">4,100.00</text>
<text x="2576.5" y="1001.7" font-size="23.5" fill="#131722" textLength="92.3" lengthAdjust="spacingAndGlyphs">4,000.00</text>
<text x="2576.5" y="1168.7" font-size="23.5" fill="#131722" textLength="92.3" lengthAdjust="spacingAndGlyphs">3,800.00</text>
<path d="M2560 141.9H2676a4 4 0 0 1 4 4V172.1a4 4 0 0 1 -4 4H2560z" fill="#000000"/>
<text x="2576.5" y="166.2" font-size="23.5" fill="#ffffff" textLength="92.3" lengthAdjust="spacingAndGlyphs">5,000.00</text>
<path d="M2560 309.0H2676a4 4 0 0 1 4 4V339.2a4 4 0 0 1 -4 4H2560z" fill="#4CAF50"/>
<text x="2576.5" y="333.3" font-size="23.5" fill="#ffffff" textLength="92.3" lengthAdjust="spacingAndGlyphs">4,800.00</text>
<path d="M2560 1060.9H2676a4 4 0 0 1 4 4V1091.1a4 4 0 0 1 -4 4H2560z" fill="#F23645"/>
<text x="2576.5" y="1085.2" font-size="23.5" fill="#ffffff" textLength="92.3" lengthAdjust="spacingAndGlyphs">3,900.00</text>
<path d="M2560 556.7H2676a4 4 0 0 1 4 4V614.8a4 4 0 0 1 -4 4H2560z" fill="#F23645"/>
<text x="2576.5" y="580.4" font-size="23.5" fill="#ffffff" textLength="92.3" lengthAdjust="spacingAndGlyphs">4,502.80</text>
<text x="2576.5" y="608.8" font-size="23.5" fill="#fbd0d5" textLength="92.3" lengthAdjust="spacingAndGlyphs">02:56:35</text>
<path d="M2560 618.8H2676a4 4 0 0 1 4 4V649a4 4 0 0 1 -4 4H2560z" fill="#4CAF50"/>
<text x="2576.5" y="643.1" font-size="23.5" fill="#ffffff" textLength="92.3" lengthAdjust="spacingAndGlyphs">4,500.00</text>
<path d="M2560 653H2676a4 4 0 0 1 4 4V682.7a4 4 0 0 1 -4 4H2560z" fill="#2a2a2a"/>
<text x="2576.5" y="676.8" font-size="23.5" fill="#ffffff" textLength="92.3" lengthAdjust="spacingAndGlyphs">4,423.33</text>
<text x="95.8" y="1251" font-size="23.5" fill="#131722" textLength="12.3" lengthAdjust="spacingAndGlyphs">9</text>
<text x="215.3" y="1251" font-size="23.5" fill="#131722" textLength="24.6" lengthAdjust="spacingAndGlyphs">13</text>
<text x="340.8" y="1251" font-size="23.5" fill="#131722" textLength="24.6" lengthAdjust="spacingAndGlyphs">17</text>
<text x="466.4" y="1251" font-size="23.5" fill="#131722" textLength="24.6" lengthAdjust="spacingAndGlyphs">21</text>
<text x="591.9" y="1251" font-size="23.5" fill="#131722" textLength="24.6" lengthAdjust="spacingAndGlyphs">25</text>
<text x="804.1" y="1251" font-size="23.5" fill="#131722" textLength="39.5" lengthAdjust="spacingAndGlyphs" font-weight="bold">Sep</text>
<text x="943.2" y="1251" font-size="23.5" fill="#131722" textLength="12.3" lengthAdjust="spacingAndGlyphs">5</text>
<text x="1068.8" y="1251" font-size="23.5" fill="#131722" textLength="12.3" lengthAdjust="spacingAndGlyphs">9</text>
<text x="1188.2" y="1251" font-size="23.5" fill="#131722" textLength="24.6" lengthAdjust="spacingAndGlyphs">13</text>
<text x="1313.7" y="1251" font-size="23.5" fill="#131722" textLength="24.6" lengthAdjust="spacingAndGlyphs">17</text>
<text x="1439.3" y="1251" font-size="23.5" fill="#131722" textLength="24.6" lengthAdjust="spacingAndGlyphs">21</text>
<text x="1564.8" y="1251" font-size="23.5" fill="#131722" textLength="24.6" lengthAdjust="spacingAndGlyphs">25</text>
<text x="1746.4" y="1251" font-size="23.5" fill="#131722" textLength="38.0" lengthAdjust="spacingAndGlyphs" font-weight="bold">Oct</text>
<text x="1884.8" y="1251" font-size="23.5" fill="#131722" textLength="12.3" lengthAdjust="spacingAndGlyphs">5</text>
<text x="2010.3" y="1251" font-size="23.5" fill="#131722" textLength="12.3" lengthAdjust="spacingAndGlyphs">9</text>
<text x="2129.7" y="1251" font-size="23.5" fill="#131722" textLength="24.6" lengthAdjust="spacingAndGlyphs">13</text>
<text x="2255.3" y="1251" font-size="23.5" fill="#131722" textLength="24.6" lengthAdjust="spacingAndGlyphs">17</text>
<text x="2380.8" y="1251" font-size="23.5" fill="#131722" textLength="24.6" lengthAdjust="spacingAndGlyphs">21</text>
<text x="2506.4" y="1251" font-size="23.5" fill="#131722" textLength="24.6" lengthAdjust="spacingAndGlyphs">25</text>
<g fill="#0f0f0f"><path d="M24 1313.9H47.7V1343.6H35.9V1325.7H24z"/><circle cx="57.9" cy="1319.8" r="5.9"/><path d="M68.5 1313.9H83.9L72 1343.6H58.2z"/></g>
<clipPath id="wclip"><rect x="300" y="1321.78" width="50" height="21.779999999999973"/></clipPath>
<g fill="none" stroke="#0f0f0f" stroke-width="6.1" stroke-linecap="butt" stroke-linejoin="miter">
<path d="M98.2 1316.9099999999999H119.9M108.9 1313.86V1343.56"/>
<path d="M123.2 1321.78V1343.56M123.2 1335.8A11.3 11.3 0 0 1 134.5 1324.5"/>
<circle cx="144.9" cy="1332.67" r="8.5"/><path d="M152.6 1321.78V1343.56"/>
<circle cx="170.8" cy="1332.67" r="8.5"/><path d="M178.6 1313.2V1343.56"/>
<path d="M188.9 1321.78V1343.56"/>
<path d="M199.2 1321.78V1343.56M199.2 1331.2A6.73 6.9 0 0 1 212.66 1331.2V1343.56"/>
<circle cx="231.4" cy="1332.67" r="8.5"/><path d="M239.7 1321.78V1340.5C239.7 1346.6 236 1349.8 231 1349.8C227.3 1349.8 224.3 1348.4 222.2 1345.8"/>
<path d="M277.1 1321.78V1343.56"/>
<path d="M303 1333.3H287M302.95 1333.6A8.5 8.5 0 1 0 301 1338.1" stroke-width="5.6"/>
<path clip-path="url(#wclip)" d="M306.2 1316.4L316.1 1343.8L322.6 1325.2L329.1 1343.8L339 1316.4" stroke-width="6.4"/>
</g>
<g fill="#0f0f0f"><circle cx="188.85" cy="1316.8" r="3.95"/><circle cx="277.05" cy="1316.8" r="3.95"/>
<path d="M241 1313.86H247.95L258.1 1334.8L264.9 1313.86H271.7L260.8 1343.56H255.5z"/></g>
</svg>
</body></html>
